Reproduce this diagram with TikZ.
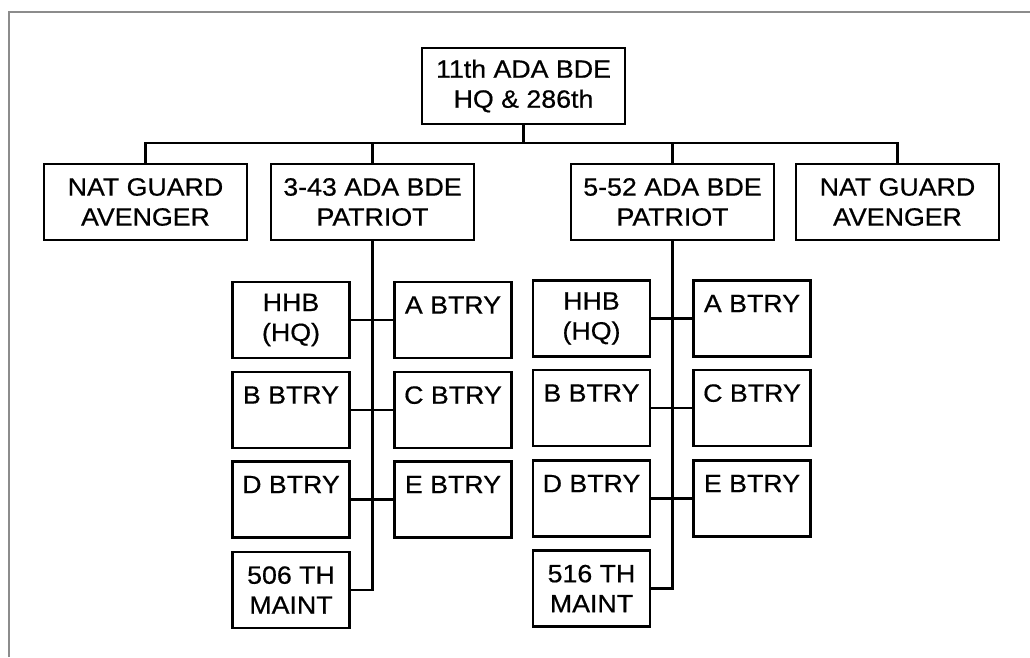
\documentclass[tikz,border=0pt]{standalone}
\usepackage{fontspec}
\setmainfont{Liberation Sans}[FakeStretch=1.07,FakeBold=0.6]
\begin{document}
\begin{tikzpicture}[x=1pt,y=-1pt,
  unitbox/.style={draw=black, line width=2.6pt, inner sep=0pt, align=center,
    font=\fontsize{25}{30}\selectfont},
  bigbox/.style={unitbox, minimum width=203pt, minimum height=76pt},
  smallbox/.style={unitbox, minimum width=117pt, minimum height=76pt},
  link/.style={draw=black, line width=2.2pt},
  frameline/.style={draw=black!45, line width=2.6pt}]
\useasboundingbox (0,0) rectangle (1030,657);
\draw[frameline] (9,657) -- (9,12) -- (1030,12);

% top
\node[bigbox] (top) at (523.5,86) {11th ADA BDE\\HQ \& 286th};
% level 2
\node[bigbox] (ng1) at (145.5,202) {NAT GUARD\\AVENGER};
\node[bigbox] (b343) at (372.5,202) {3-43 ADA BDE\\PATRIOT};
\node[bigbox] (b552) at (672.5,202) {5-52 ADA BDE\\PATRIOT};
\node[bigbox] (ng2) at (897.5,202) {NAT GUARD\\AVENGER};

\draw[link] (top.south) -- (top.south |- 0,144);
\draw[link] (ng1.north) -- ++(0,-20) -| (ng2.north);
\draw[link] (b343.north) -- ++(0,-20);
\draw[link] (b552.north) -- ++(0,-20);

% left group
\node[smallbox] (hhb1) at (291,320) {HHB\\(HQ)};
\node[smallbox] (a1)   at (453,320) {A BTRY\\\mbox{}};
\node[smallbox] (bb1)  at (291,410) {B BTRY\\\mbox{}};
\node[smallbox] (c1)   at (453,410) {C BTRY\\\mbox{}};
\node[smallbox] (d1)   at (291,499.5) {D BTRY\\\mbox{}};
\node[smallbox] (e1)   at (453,499.5) {E BTRY\\\mbox{}};
\node[smallbox] (m506) at (291,590) {506 TH\\MAINT};
\draw[link] (b343.south) |- (m506.east);
\draw[link] (hhb1.east) -- (a1.west);
\draw[link] (bb1.east) -- (c1.west);
\draw[link] (d1.east) -- (e1.west);

% right group
\node[smallbox] (hhb2) at (591.5,318.5) {HHB\\(HQ)};
\node[smallbox] (a2)   at (752,318.5) {A BTRY\\\mbox{}};
\node[smallbox] (bb2)  at (591.5,408) {B BTRY\\\mbox{}};
\node[smallbox] (c2)   at (752,408) {C BTRY\\\mbox{}};
\node[smallbox] (d2)   at (591.5,498.5) {D BTRY\\\mbox{}};
\node[smallbox] (e2)   at (752,498.5) {E BTRY\\\mbox{}};
\node[smallbox] (m516) at (591.5,588.5) {516 TH\\MAINT};
\draw[link] (b552.south) |- (m516.east);
\draw[link] (hhb2.east) -- (a2.west);
\draw[link] (bb2.east) -- (c2.west);
\draw[link] (d2.east) -- (e2.west);
\end{tikzpicture}
\end{document}
